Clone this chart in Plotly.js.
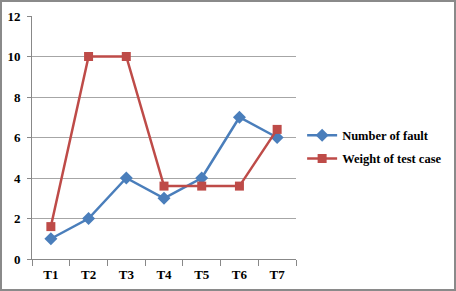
<!DOCTYPE html>
<html><head><meta charset="utf-8">
<script src="https://cdn.plot.ly/plotly-3.0.1.min.js"></script>
<style>
html,body{margin:0;padding:0;background:#fff;}
#wrap{width:456px;height:291px;box-sizing:border-box;border:2px solid #8a8a8a;overflow:hidden;}
#chart{width:452px;height:287px;}
</style></head>
<body><div id="wrap"><div id="chart"></div></div>
<script>
const categories = ["T1","T2","T3","T4","T5","T6","T7"];
const numberOfFault = [1,2,4,3,4,7,6];
const weightOfTestCase = [1.6,10,10,3.6,3.6,3.6,6.4];
const yTicks = [0,2,4,6,8,10,12];

const fam = "Liberation Serif, Times New Roman, serif";

const traces = [
  {x:categories, y:numberOfFault, name:"<b>Number of fault</b>", type:"scatter", mode:"lines+markers",
   line:{color:"#4a7ebb", width:2.5}, marker:{symbol:"diamond", size:10, color:"#4a7ebb"}, legendgroup:"a"},
  {x:categories, y:weightOfTestCase, name:"<b>Weight of test case</b>", type:"scatter", mode:"lines+markers",
   line:{color:"#be4b48", width:2.5}, marker:{symbol:"square", size:9, color:"#be4b48"}, legendgroup:"b"}
];

const layout = {
  width:452, height:287,
  margin:{l:30, r:158, t:14, b:30},
  paper_bgcolor:"#fff", plot_bgcolor:"#fff",
  font:{family:fam, size:12, color:"#000"},
  showlegend:true,
  legend:{xref:"container", x:0.664, y:0.46, xanchor:"left", yanchor:"middle",
          font:{family:fam, size:12.5, color:"#000"},
          tracegroupgap:4, bgcolor:"rgba(0,0,0,0)"},
  xaxis:{type:"category", range:[-0.5,6.5], tickvals:categories, ticktext:categories.map(c=>"<b>"+c+"</b>"),
         showgrid:false, showline:true, linecolor:"#888", linewidth:1,
         ticks:"outside", tickson:"boundaries", ticklen:6, tickcolor:"#888", ticklabelstandoff:3,
         tickfont:{family:fam, size:13, color:"#000"}, fixedrange:true},
  yaxis:{range:[0,12], tickvals:yTicks, ticktext:yTicks.map(v=>"<b>"+v+"</b>"), showgrid:true, gridcolor:"#a6a6a6", gridwidth:1,
         showline:true, linecolor:"#888", ticks:"outside", ticklen:4, tickcolor:"#888", zeroline:false,
         ticklabelstandoff:4,
         tickfont:{family:fam, size:13, color:"#000"}, fixedrange:true}
};

Plotly.newPlot("chart", traces, layout, {staticPlot:true, displayModeBar:false});
</script>
</body></html>
